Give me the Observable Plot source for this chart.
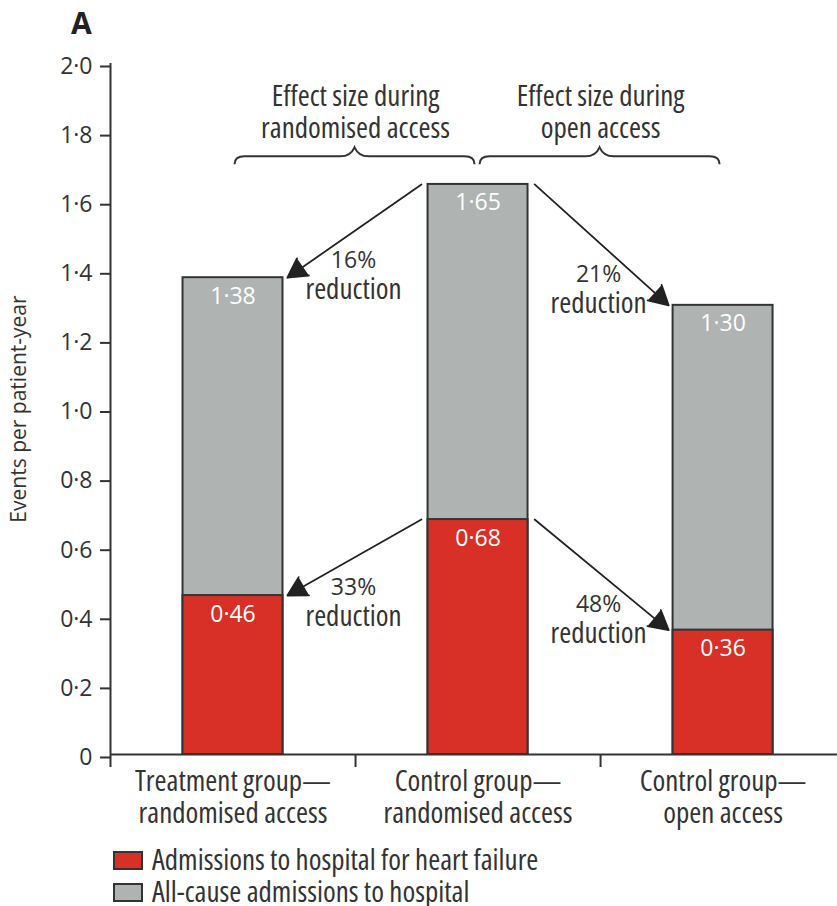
<!DOCTYPE html>
<html>
<head>
<meta charset="utf-8">
<script src="https://cdn.jsdelivr.net/npm/d3@7"></script>
<script src="https://cdn.jsdelivr.net/npm/@observablehq/plot@0.6"></script>
<style>
  html, body { margin: 0; background: #fff; }
  body { font-family: "Open Sans", sans-serif; color: #333; position: relative; width: 837px; min-height: 906px; }
  #head { position: relative; width: 837px; height: 44px; }
  #head span { position: absolute; left: 71px; top: 8px; font-size: 30px; line-height: 30px; font-weight: 700; color: #222; }
  #chart { height: 800px; }
  #chart svg { display: block; }
  #legend { position: relative; width: 837px; height: 62px; }
  .sw { position: absolute; left: 113px; width: 26px; height: 15px; border: 2px solid #333; }
  .lt { position: absolute; left: 152px; font-size: 29px; line-height: 29px; font-stretch: 75%; color: #333; white-space: nowrap; }
</style>
</head>
<body>
<div id="head"><span>A</span></div>
<div id="chart"></div>
<div id="legend"></div>
<script>
// ---- data ----
const categories = ["Treatment group—\nrandomised access", "Control group—\nrandomised access", "Control group—\nopen access"];
const allCause = [1.38, 1.65, 1.30];
const heartFailure = [0.46, 0.68, 0.36];
const yTicks = [0, 0.2, 0.4, 0.6, 0.8, 1.0, 1.2, 1.4, 1.6, 1.8, 2.0];
const arrowFrom = [1, 1, 1, 1];
const arrowTo = [0, 0, 2, 2];
const arrowSeries = ["allCause", "heartFailure", "allCause", "heartFailure"];
const reductionLabels = ["16%", "33%", "21%", "48%"];
const braceFrom = [0, 1];
const braceTo = [1, 2];
const braceLabels = ["Effect size during\nrandomised access", "Effect size during\nopen access"];
const legendLabels = ["Admissions to hospital for heart failure", "All-cause admissions to hospital"];

// ---- styles ----
const RED = "#d83026", GREY = "#afb3b2", INK = "#333";
const HW = 0.204; // bar half width (band units)
const WORD = 29, NUM = 23;
const seriesValues = {allCause, heartFailure};
const val = (s, i) => seriesValues[s][i];
const fmt = (d, n) => d === 0 ? "0" : d.toFixed(n).replace(".", "·");
const arrowIdx = d3.range(arrowFrom.length);
const braceIdx = d3.range(braceFrom.length);
const condensed = (index, scales, values, dims, ctx, next) => {
  const g = next(index, scales, values, dims, ctx);
  if (g) g.style.fontStretch = "75%";
  return g;
};

function braces(index, scales) {
  const g = d3.create("svg:g").attr("fill", "none").attr("stroke", INK).attr("stroke-width", 2);
  for (const k of braceIdx) {
    const xL = scales.x(braceFrom[k] + 0.5) + 2, xR = scales.x(braceTo[k] + 0.5) - 3;
    const xM = (xL + xR) / 2, y = scales.y(1.73), r = 10;
    g.append("path").attr("d",
      `M${xL},${y + 8} Q${xL},${y} ${xL + r},${y} L${xM - 14},${y} Q${xM - 4},${y} ${xM},${y - 9} Q${xM + 4},${y} ${xM + 14},${y} L${xR - r},${y} Q${xR},${y} ${xR},${y + 8}`);
  }
  return g.node();
}

const plot = Plot.plot({
  width: 837,
  height: 800,
  marginLeft: 110,
  marginRight: 0,
  marginTop: 19,
  marginBottom: 90,
  style: {fontFamily: "'Open Sans', sans-serif", fontSize: "23px", color: INK, background: "white", overflow: "visible"},
  x: {domain: [0, 2.967], axis: null},
  y: {domain: [0, 2], axis: null},
  marks: [
    Plot.rectY(allCause, {x1: (d, i) => i + 0.5 - HW, x2: (d, i) => i + 0.5 + HW, y1: 0, y2: d => d, fill: GREY, stroke: INK, strokeWidth: 2}),
    Plot.rectY(heartFailure, {x1: (d, i) => i + 0.5 - HW, x2: (d, i) => i + 0.5 + HW, y1: 0, y2: d => d, fill: RED, stroke: INK, strokeWidth: 2}),
    Plot.text(allCause, {x: (d, i) => i + 0.5, y: d => d, text: d => fmt(d, 2), lineAnchor: "bottom", dy: 26, fill: "white", fontSize: NUM}),
    Plot.text(heartFailure, {x: (d, i) => i + 0.5, y: d => d, text: d => fmt(d, 2), lineAnchor: "bottom", dy: 26, fill: "white", fontSize: NUM}),
    Plot.axisY({ticks: yTicks, tickFormat: d => fmt(d, 1), tickSize: 10, tickPadding: 8, stroke: INK, strokeWidth: 2, fill: INK, fontSize: NUM, dy: 3, label: null}),
    Plot.axisX({ticks: [0, 1, 2], tickSize: 13, tickFormat: () => "", stroke: INK, strokeWidth: 2, label: null}),
    Plot.ruleX([0], {stroke: INK, strokeWidth: 2}),
    Plot.ruleY([0], {stroke: INK, strokeWidth: 2}),
    Plot.text(["Events per patient-year"], {frameAnchor: "left", textAnchor: "middle", rotate: -90, lineAnchor: "bottom", dx: -85, fontSize: 21, fill: INK}),
    Plot.text(categories, {x: (d, i) => i + 0.5, frameAnchor: "bottom", lineAnchor: "bottom", dy: 68, lineHeight: 1.103, fontSize: WORD, fill: INK, render: condensed}),
    Plot.arrow(arrowIdx, {
      x1: k => arrowFrom[k] + 0.5 + Math.sign(arrowTo[k] - arrowFrom[k]) * (HW + 0.027),
      y1: k => val(arrowSeries[k], arrowFrom[k]),
      x2: k => arrowTo[k] + 0.5 - Math.sign(arrowTo[k] - arrowFrom[k]) * (HW + 0.018),
      y2: k => val(arrowSeries[k], arrowTo[k]),
      stroke: "#222", fill: "#222", strokeWidth: 1.8, headLength: 18, headAngle: 58
    }),
    Plot.text(arrowIdx, {
      x: k => Math.max(arrowFrom[k], arrowTo[k]),
      y: k => (val(arrowSeries[k], arrowFrom[k]) + val(arrowSeries[k], arrowTo[k])) / 2,
      text: k => reductionLabels[k], lineAnchor: "bottom", dy: 37, dx: -2, fontSize: NUM, fill: INK
    }),
    Plot.text(arrowIdx, {
      x: k => Math.max(arrowFrom[k], arrowTo[k]),
      y: k => (val(arrowSeries[k], arrowFrom[k]) + val(arrowSeries[k], arrowTo[k])) / 2,
      text: () => "reduction", lineAnchor: "bottom", dy: 68, dx: -2, fontSize: WORD, fill: INK, render: condensed
    }),
    braces,
    Plot.text(braceLabels, {x: (d, i) => (braceFrom[i] + braceTo[i]) / 2 + 0.5, frameAnchor: "top", lineAnchor: "bottom", dy: 74, lineHeight: 1.07, fontSize: WORD, fill: INK, render: condensed})
  ]
});
document.getElementById("chart").append(plot);

const legend = document.getElementById("legend");
[RED, GREY].forEach((c, i) => {
  const sw = document.createElement("div");
  sw.className = "sw";
  sw.style.background = c;
  sw.style.top = (7 + i * 31.5) + "px";
  const t = document.createElement("div");
  t.className = "lt";
  t.style.top = (0 + i * 32) + "px";
  t.textContent = legendLabels[i];
  legend.append(sw, t);
});
</script>
</body>
</html>
